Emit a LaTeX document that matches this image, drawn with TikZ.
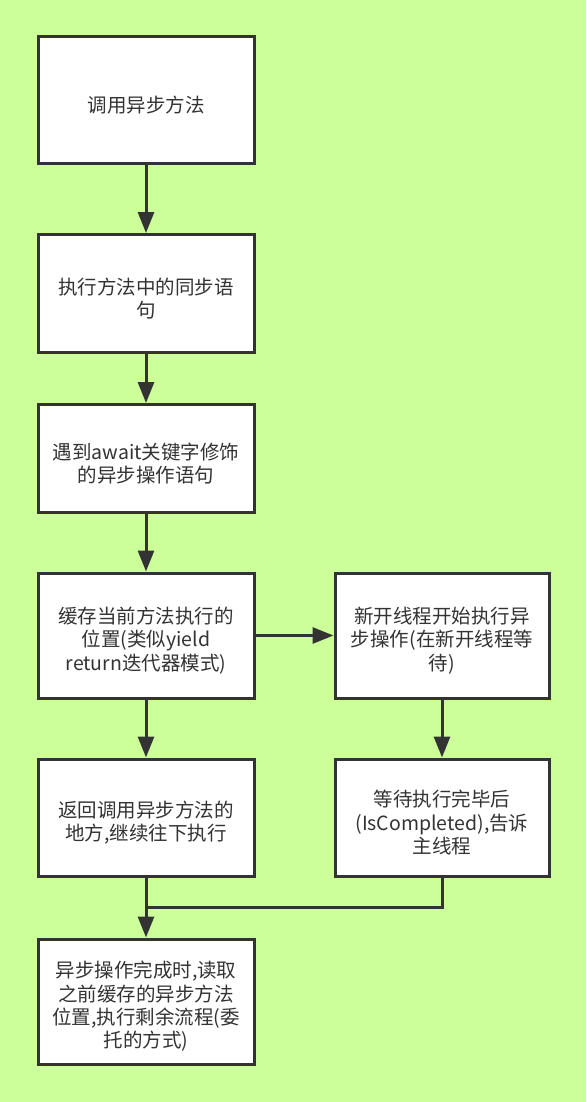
\documentclass[tikz,border=0pt]{standalone}
\usepackage{fontspec}
\setmainfont{Noto Sans CJK SC}
\usetikzlibrary{arrows.meta}
\definecolor{bg}{HTML}{CCFF99}
\definecolor{ink}{HTML}{333333}
\tikzset{
  box/.style={draw=ink, line width=3pt, fill=white, minimum width=#1, inner sep=0pt},
  box/.default=216pt,
  txt/.style={align=center, text=ink, font=\fontsize{19.5pt}{23.3pt}\selectfont, inner sep=0pt, yshift=-5pt},
  conn/.style={draw=ink, line width=3pt, -{Triangle[length=21pt,width=16pt]}},
  plain/.style={draw=ink, line width=3pt}
}
\begin{document}
\begin{tikzpicture}[x=1pt,y=-1pt]
\fill[bg] (0,0) rectangle (586,1102);
\useasboundingbox (0,0) rectangle (586,1102);
\node[box, minimum height=127pt, label={[txt]center:{调用异步方法}}] (b1) at (146,100.5) {};
\node[box, minimum height=118pt, label={[txt]center:{执行方法中的同步语\\句}}] (b2) at (146,293.5) {};
\node[box, minimum height=108pt, label={[txt]center:{遇到await关键字修饰\\的异步操作语句}}] (b3) at (146,458.5) {};
\node[box, minimum height=125pt, label={[txt]center:{缓存当前方法执行的\\位置(类似yield\\return迭代器模式)}}] (b4) at (146,635.5) {};
\node[box=214pt, minimum height=125pt, label={[txt]center:{新开线程开始执行异\\步操作(在新开线程等\\待)}}] (b5) at (442,635.5) {};
\node[box, minimum height=117pt, label={[txt]center:{返回调用异步方法的\\地方,继续往下执行}}] (b6) at (146,817.5) {};
\node[box=214pt, minimum height=117pt, label={[txt]center:{等待执行完毕后\\(IsCompleted),告诉\\主线程}}] (b7) at (442,817.5) {};
\node[box, minimum height=125pt, label={[txt]center:{异步操作完成时,读取\\之前缓存的异步方法\\位置,执行剩余流程(委\\托的方式)}}] (b8) at (146,1001.5) {};
\coordinate (m) at (146,907);
\draw[conn] (b1) -- (b2);
\draw[conn] (b2) -- (b3);
\draw[conn] (b3) -- (b4);
\draw[conn] (b4) -- (b5);
\draw[conn] (b4) -- (b6);
\draw[conn] (b5) -- (b7);
\draw[plain] (b7.south) |- (m);
\draw[conn] (b6.south) -- (b8.north);
\end{tikzpicture}
\end{document}
